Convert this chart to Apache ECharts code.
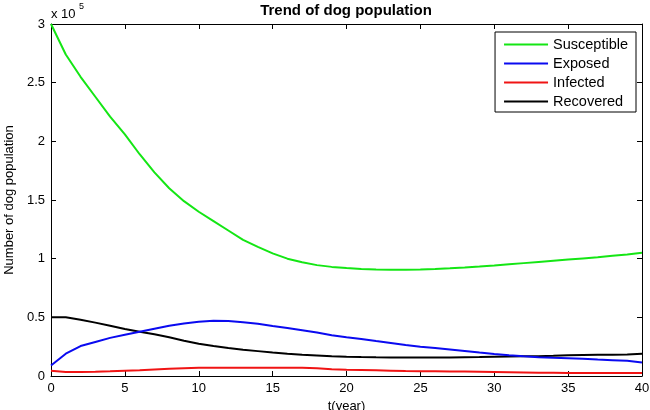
<!DOCTYPE html>
<html>
<head>
<meta charset="utf-8">
<script src="https://cdn.jsdelivr.net/npm/echarts@6/dist/echarts.min.js"></script>
<style>
html,body{margin:0;padding:0;background:#fff;}
#chart{width:650px;height:410px;}
</style>
</head>
<body>
<div id="chart"></div>
<script>
// values in units of 10^5 dogs
const years = [0,1,2,3,4,5,6,7,8,9,10,11,12,13,14,15,16,17,18,19,20,21,22,23,24,25,26,27,28,29,30,31,32,33,34,35,36,37,38,39,40];
const susceptible = [3.00,2.74,2.55,2.38,2.21,2.06,1.89,1.735,1.60,1.49,1.40,1.32,1.24,1.16,1.10,1.045,1.00,0.97,0.945,0.93,0.92,0.912,0.907,0.905,0.905,0.907,0.912,0.918,0.925,0.933,0.942,0.952,0.962,0.972,0.982,0.992,1.002,1.012,1.024,1.036,1.05];
const exposed = [0.09,0.19,0.255,0.29,0.325,0.352,0.378,0.403,0.428,0.448,0.462,0.470,0.468,0.458,0.445,0.427,0.41,0.39,0.37,0.347,0.33,0.315,0.298,0.282,0.265,0.25,0.238,0.226,0.214,0.20,0.188,0.177,0.168,0.16,0.155,0.152,0.147,0.14,0.135,0.13,0.115];
const infected = [0.045,0.035,0.035,0.037,0.04,0.045,0.05,0.056,0.062,0.067,0.07,0.071,0.071,0.071,0.071,0.071,0.071,0.07,0.065,0.058,0.054,0.051,0.048,0.045,0.042,0.04,0.04,0.039,0.038,0.036,0.034,0.032,0.03,0.028,0.027,0.026,0.026,0.026,0.026,0.026,0.026];
const recovered = [0.50,0.50,0.48,0.455,0.428,0.40,0.378,0.355,0.33,0.30,0.275,0.255,0.238,0.224,0.212,0.20,0.19,0.182,0.175,0.168,0.164,0.161,0.159,0.158,0.158,0.158,0.158,0.158,0.16,0.162,0.165,0.167,0.168,0.168,0.172,0.177,0.18,0.181,0.182,0.183,0.19];
const seriesNames = ['Susceptible','Exposed','Infected','Recovered'];
const seriesColors = ['#14e614','#0a0af0','#f01414','#000000'];
const xTicks = {min:0, max:40, interval:5};
const yTicks = {min:0, max:3, interval:0.5};

const FONT = 'Liberation Sans, Arial, sans-serif';
const chart = echarts.init(document.getElementById('chart'), null, {renderer:'canvas'});
const allData = [susceptible, exposed, infected, recovered];
const series = allData.map((arr, i) => ({
  name: seriesNames[i],
  type: 'line',
  data: years.map((t, j) => [t, arr[j]]),
  symbol: 'none',
  showSymbol: false,
  smooth: false,
  lineStyle: {color: seriesColors[i], width: 2},
  itemStyle: {color: seriesColors[i]},
  animation: false,
  z: 2 + (3 - i)
}));

const axisLineStyle = {show: true, onZero: false, lineStyle: {color: '#000', width: 1}};
const tickStyle = {show: true, inside: true, length: 5, lineStyle: {color: '#000'}};

chart.setOption({
  animation: false,
  backgroundColor: '#fff',
  title: {
    text: 'Trend of dog population',
    left: 346, top: 3, textAlign: 'center', padding: 0,
    textStyle: {fontFamily: FONT, fontSize: 15, fontWeight: 'bold', color: '#000'}
  },
  grid: {left: 51, top: 24, right: 8, bottom: 34, containLabel: false, outerBoundsMode: 'none'},
  legend: {
    orient: 'vertical',
    right: 14, top: 32,
    padding: [5, 8, 3, 9],
    itemGap: 4,
    itemWidth: 44,
    itemHeight: 14,
    icon: 'path://M0,0L44,0L44,2L0,2Z',
    symbolKeepAspect: true,
    backgroundColor: '#fff',
    borderColor: '#000',
    borderWidth: 1,
    textStyle: {fontFamily: FONT, fontSize: 14.5, color: '#000'},
    data: seriesNames
  },
  xAxis: [{
    type: 'value', min: xTicks.min, max: xTicks.max, interval: xTicks.interval,
    position: 'bottom',
    name: 't(year)', nameLocation: 'middle', nameGap: 22,
    nameTextStyle: {fontFamily: FONT, fontSize: 13, color: '#000'},
    axisLine: axisLineStyle, axisTick: tickStyle,
    axisLabel: {fontFamily: FONT, fontSize: 13, color: '#000', margin: 6},
    splitLine: {show: false}
  }, {
    type: 'value', min: xTicks.min, max: xTicks.max, interval: xTicks.interval,
    position: 'top',
    axisLine: axisLineStyle, axisTick: tickStyle,
    axisLabel: {show: false}, splitLine: {show: false}
  }],
  yAxis: [{
    type: 'value', min: yTicks.min, max: yTicks.max, interval: yTicks.interval,
    position: 'left',
    name: 'Number of dog population', nameLocation: 'middle', nameGap: 34,
    nameTextStyle: {fontFamily: FONT, fontSize: 13, color: '#000'},
    axisLine: axisLineStyle, axisTick: tickStyle,
    axisLabel: {fontFamily: FONT, fontSize: 13, color: '#000', margin: 6},
    splitLine: {show: false}
  }, {
    type: 'value', min: yTicks.min, max: yTicks.max, interval: yTicks.interval,
    position: 'right',
    axisLine: axisLineStyle, axisTick: tickStyle,
    axisLabel: {show: false}, splitLine: {show: false}
  }],
  graphic: [
    {type: 'text', left: 51, top: 8, style: {text: 'x 10', font: '13px ' + FONT, fill: '#000'}},
    {type: 'text', left: 79, top: 2, style: {text: '5', font: '9px ' + FONT, fill: '#000'}}
  ],
  series: series
});
</script>
</body>
</html>
